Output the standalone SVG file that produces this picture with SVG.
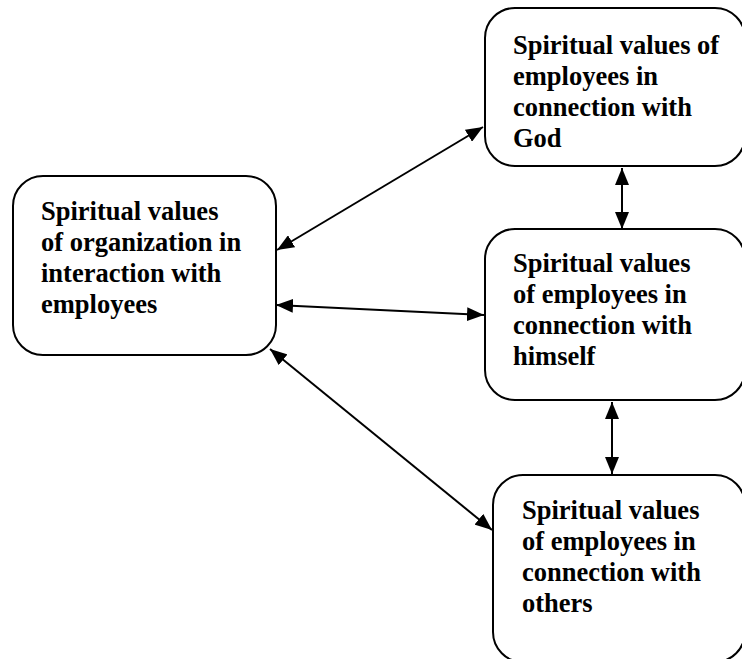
<svg xmlns="http://www.w3.org/2000/svg" width="742" height="659" viewBox="0 0 742 659">
<style>
.box{fill:#fff;stroke:#000;stroke-width:2}
.t{font-family:"Liberation Serif","Times New Roman",serif;font-weight:bold;font-size:26.5px;fill:#000}
.c{stroke:#000;stroke-width:2;fill:none;marker-start:url(#ah);marker-end:url(#ah)}
</style>
<defs>
<marker id="ah" viewBox="0 0 17 14" refX="17" refY="7" markerWidth="17" markerHeight="14" markerUnits="userSpaceOnUse" orient="auto-start-reverse">
<path d="M0,0 L17,7 L0,14 Z" fill="#000"/>
</marker>
</defs>
<rect width="742" height="659" fill="#fff"/>
<g id="n-org">
<rect class="box" x="13" y="176" width="263" height="179" rx="30"/>
<text class="t" x="41" y="220">Spiritual values</text>
<text class="t" x="41" y="251">of organization in</text>
<text class="t" x="41" y="282">interaction with</text>
<text class="t" x="41" y="313">employees</text>
</g>
<g id="n-god">
<rect class="box" x="485" y="8" width="260" height="158" rx="30"/>
<text class="t" x="513" y="54">Spiritual values of</text>
<text class="t" x="513" y="85">employees in</text>
<text class="t" x="513" y="116">connection with</text>
<text class="t" x="513" y="147">God</text>
</g>
<g id="n-himself">
<rect class="box" x="485" y="229" width="260" height="171" rx="30"/>
<text class="t" x="513" y="272">Spiritual values</text>
<text class="t" x="513" y="303">of employees in</text>
<text class="t" x="513" y="334">connection with</text>
<text class="t" x="513" y="365">himself</text>
</g>
<g id="n-others">
<rect class="box" x="493" y="475" width="252" height="187" rx="30"/>
<text class="t" x="522" y="519">Spiritual values</text>
<text class="t" x="522" y="550">of employees in</text>
<text class="t" x="522" y="581">connection with</text>
<text class="t" x="522" y="612">others</text>
</g>
<g id="connectors">
<line class="c" x1="277" y1="250" x2="483" y2="127"/>
<line class="c" x1="276" y1="305" x2="484" y2="315"/>
<line class="c" x1="270" y1="349" x2="492" y2="530"/>
<line class="c" x1="622" y1="168" x2="622" y2="229"/>
<line class="c" x1="612" y1="402" x2="612" y2="474"/>
</g>
</svg>
